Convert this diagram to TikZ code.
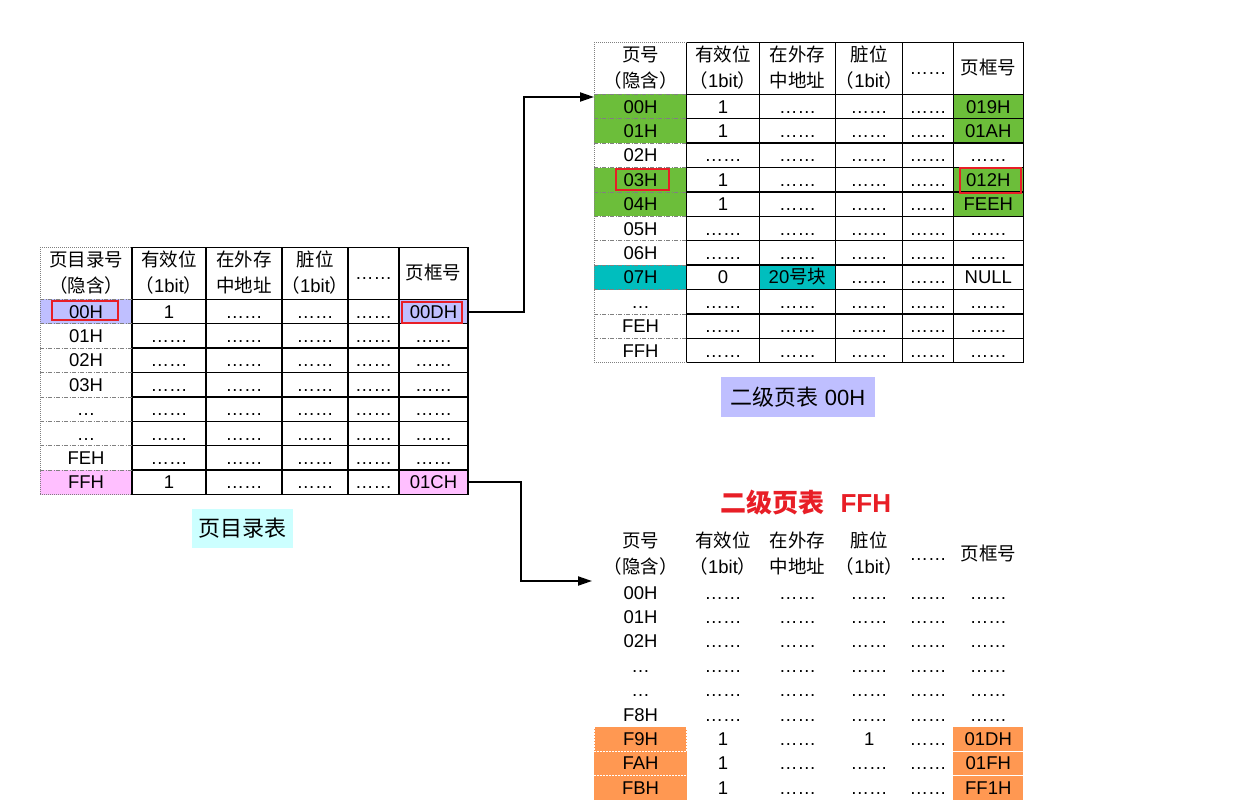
\documentclass[tikz,border=0pt]{standalone}
\usepackage{fontspec}
\setmainfont{Liberation Sans}
\newfontfamily\cjk{Noto Sans CJK SC}
\usetikzlibrary{arrows.meta}
\definecolor{lav}{RGB}{191,191,255}
\definecolor{pinkc}{RGB}{255,191,255}
\definecolor{greenc}{RGB}{108,190,58}
\definecolor{tealc}{RGB}{0,190,190}
\definecolor{orangec}{RGB}{255,152,82}
\definecolor{cyanl}{RGB}{204,255,255}
\definecolor{redc}{RGB}{232,30,38}
\definecolor{grayc}{RGB}{128,128,128}
\newcommand\dsix{……}
\newcommand\dthree{…}
\newcommand\lpar{{\cjk （}}
\newcommand\rpar{{\cjk ）}}
\newcommand\hdrtwo[5]{\node[hdr] (#1a) at (#2,#3-13) {#4}; \node[hdr] (#1b) at (#2,#3+13) {#5};}
\newcommand\hdrone[4]{\node[hdr] (#1) at (#2,#3) {#4};}
\begin{document}
\begin{tikzpicture}[x=1pt,y=-1pt,
  cell/.style={inner sep=0pt,outer sep=0pt,text height=13pt,text depth=0pt,minimum height=24.4pt,font=\fontsize{18.5}{21}\selectfont},
  hdr/.style={inner sep=0pt,text height=13pt,text depth=0pt,font=\fontsize{18.5}{21}\selectfont},
  tline/.style={line width=1.4pt,black},
  gline/.style={line width=0.8pt,grayc,dash pattern=on 4pt off 1.5pt on 1pt off 1.5pt},
  wline/.style={line width=0.8pt,white,dash pattern=on 2pt off 1pt},
  redbox/.style={draw=redc,line width=1.8pt},
  arr/.style={line width=2pt,-{Triangle[length=14pt,width=9pt]}},
  lbl/.style={inner sep=0pt,font=\fontsize{22}{26}\selectfont}
]
\useasboundingbox (0,0) rectangle (1235,803);
\fill[white] (0,0) rectangle (1235,803);
\def\Lx{{86,169,244,315,373.5,433.5}}
\def\Lw{{92,74,76,66,51,69}}
\def\Tx{{640.5,723,797.5,869.2,928,988.3}}
\def\Tw{{92.4,72.6,76.4,67,50.6,70}}

% ---------------- left table (page directory) ----------------
\fill[lav] (40,299.3) rectangle (132,323.7);
\fill[lav] (399,299.3) rectangle (468,323.7);
\fill[pinkc] (40,470.1) rectangle (132,494.5);
\fill[pinkc] (399,470.1) rectangle (468,494.5);
\foreach \row [count=\r from 0] in {
  {00H,1,\dsix,\dsix,\dsix,00DH},
  {01H,\dsix,\dsix,\dsix,\dsix,\dsix},
  {02H,\dsix,\dsix,\dsix,\dsix,\dsix},
  {03H,\dsix,\dsix,\dsix,\dsix,\dsix},
  {\dthree,\dsix,\dsix,\dsix,\dsix,\dsix},
  {\dthree,\dsix,\dsix,\dsix,\dsix,\dsix},
  {FEH,\dsix,\dsix,\dsix,\dsix,\dsix},
  {FFH,1,\dsix,\dsix,\dsix,01CH}}{
  \foreach \t [count=\c from 0] in \row {
    \pgfmathsetmacro\xx{\Lx[\c]}
    \pgfmathsetmacro\ww{\Lw[\c]}
    \node[cell,minimum width=\ww pt] (L-\r-\c) at (\xx,299.3+24.4*\r+12.2) {\t};
  }
}
\hdrtwo{LH0}{86}{273.3}{\cjk 页目录号}{\cjk （隐含）}
\hdrtwo{LH1}{169}{273.3}{\cjk 有效位}{\lpar 1bit\rpar}
\hdrtwo{LH2}{244}{273.3}{\cjk 在外存}{\cjk 中地址}
\hdrtwo{LH3}{315}{273.3}{\cjk 脏位}{\lpar 1bit\rpar}
\hdrone{LH4}{373.5}{273.3}{\dsix}
\hdrone{LH5}{433.5}{273.3}{\cjk 页框号}
\foreach \xv in {132,206,282,348,399,468}
  \draw[tline] (\xv,247.3) -- (\xv,494.5);
\draw[tline] (132,247.3) -- (468,247.3);
\foreach \k in {0,...,8}
  \draw[tline] (132,{299.3+24.4*\k}) -- (468,{299.3+24.4*\k});
\draw[gline,dash pattern=on 1pt off 1pt] (40,247.3) -- (40,494.5);
\draw[gline,dash pattern=on 1pt off 1pt] (40,247.3) -- (132,247.3);
\draw[gline,dash pattern=on 1pt off 1pt] (40,494.5) -- (132,494.5);
\foreach \k in {0,...,7}
  \draw[gline] (40,{299.3+24.4*\k}) -- (132,{299.3+24.4*\k});
\draw[redbox] (51.7,301) rectangle (118.3,320);
\draw[redbox] (401.7,302.3) rectangle (461.7,323.3);
\node[lbl,fill=cyanl,minimum width=101pt,minimum height=38.5pt] (lab1) at (242.5,528.5) {\cjk 页目录表};

% ---------------- top right table (second level 00H) ----------------
\foreach \k in {0,1,3,4}{
  \fill[greenc] (594.3,{94.3+24.4*\k}) rectangle (686.7,{94.3+24.4*(\k+1)});
  \fill[greenc] (953.3,{94.3+24.4*\k}) rectangle (1023.3,{94.3+24.4*(\k+1)});
}
\fill[tealc] (594.3,265.1) rectangle (686.7,289.5);
\fill[tealc] (759.3,265.1) rectangle (835.7,289.5);
\foreach \row [count=\r from 0] in {
  {00H,1,\dsix,\dsix,\dsix,019H},
  {01H,1,\dsix,\dsix,\dsix,01AH},
  {02H,\dsix,\dsix,\dsix,\dsix,\dsix},
  {03H,1,\dsix,\dsix,\dsix,012H},
  {04H,1,\dsix,\dsix,\dsix,FEEH},
  {05H,\dsix,\dsix,\dsix,\dsix,\dsix},
  {06H,\dsix,\dsix,\dsix,\dsix,\dsix},
  {07H,0,20{\cjk 号块},\dsix,\dsix,NULL},
  {\dthree,\dsix,\dsix,\dsix,\dsix,\dsix},
  {FEH,\dsix,\dsix,\dsix,\dsix,\dsix},
  {FFH,\dsix,\dsix,\dsix,\dsix,\dsix}}{
  \foreach \t [count=\c from 0] in \row {
    \pgfmathsetmacro\xx{\Tx[\c]}
    \pgfmathsetmacro\ww{\Tw[\c]}
    \node[cell,minimum width=\ww pt] (T-\r-\c) at (\xx,94.3+24.4*\r+12.2) {\t};
  }
}
\hdrtwo{TH0}{640.5}{68.3}{\cjk 页号}{\cjk （隐含）}
\hdrtwo{TH1}{723}{68.3}{\cjk 有效位}{\lpar 1bit\rpar}
\hdrtwo{TH2}{797.5}{68.3}{\cjk 在外存}{\cjk 中地址}
\hdrtwo{TH3}{869.2}{68.3}{\cjk 脏位}{\lpar 1bit\rpar}
\hdrone{TH4}{928}{68.3}{\dsix}
\hdrone{TH5}{988.3}{68.3}{\cjk 页框号}
\foreach \xv in {686.7,759.3,835.7,902.7,953.3,1023.3}
  \draw[tline] (\xv,42.3) -- (\xv,362.7);
\draw[tline] (686.7,42.3) -- (1023.3,42.3);
\foreach \k in {0,...,11}
  \draw[tline] (686.7,{94.3+24.4*\k}) -- (1023.3,{94.3+24.4*\k});
\draw[gline,dash pattern=on 1pt off 1pt] (594.3,42.3) -- (594.3,362.7);
\draw[gline,dash pattern=on 1pt off 1pt] (594.3,42.3) -- (686.7,42.3);
\draw[gline,dash pattern=on 1pt off 1pt] (594.3,362.7) -- (686.7,362.7);
\foreach \k in {0,...,10}
  \draw[gline] (594.3,{94.3+24.4*\k}) -- (686.7,{94.3+24.4*\k});
\draw[redbox] (615.7,169.3) rectangle (669,190);
\draw[redbox] (960,167.7) rectangle (1021,192.7);
\node[lbl,fill=lav,minimum width=154pt,minimum height=40pt] (lab2) at (798,397) {{\cjk 二级页表} 00H};

% ---------------- bottom right table (second level FFH) ----------------
\fill[orangec] (594.3,726.8) rectangle (686.7,800);
\fill[orangec] (953.3,726.8) rectangle (1023.3,800);
\foreach \row [count=\r from 0] in {
  {00H,\dsix,\dsix,\dsix,\dsix,\dsix},
  {01H,\dsix,\dsix,\dsix,\dsix,\dsix},
  {02H,\dsix,\dsix,\dsix,\dsix,\dsix},
  {\dthree,\dsix,\dsix,\dsix,\dsix,\dsix},
  {\dthree,\dsix,\dsix,\dsix,\dsix,\dsix},
  {F8H,\dsix,\dsix,\dsix,\dsix,\dsix},
  {F9H,1,\dsix,1,\dsix,01DH},
  {FAH,1,\dsix,\dsix,\dsix,01FH},
  {FBH,1,\dsix,\dsix,\dsix,FF1H}}{
  \foreach \t [count=\c from 0] in \row {
    \pgfmathsetmacro\xx{\Tx[\c]}
    \pgfmathsetmacro\ww{\Tw[\c]}
    \node[cell,minimum width=\ww pt] (B-\r-\c) at (\xx,580.4+24.4*\r+12.2) {\t};
  }
}
\hdrtwo{BH0}{640.5}{554.4}{\cjk 页号}{\cjk （隐含）}
\hdrtwo{BH1}{723}{554.4}{\cjk 有效位}{\lpar 1bit\rpar}
\hdrtwo{BH2}{797.5}{554.4}{\cjk 在外存}{\cjk 中地址}
\hdrtwo{BH3}{869.2}{554.4}{\cjk 脏位}{\lpar 1bit\rpar}
\hdrone{BH4}{928}{554.4}{\dsix}
\hdrone{BH5}{988.3}{554.4}{\cjk 页框号}
\draw[wline] (594.3,726.8) rectangle (686.7,751.2);
\draw[wline] (594.3,775.6) -- (686.7,775.6);
\draw[white,line width=1pt] (953.3,751.2) -- (1023.3,751.2);
\draw[white,line width=1pt] (953.3,775.6) -- (1023.3,775.6);
\node[inner sep=0pt,text=redc,font=\fontsize{26}{30}\selectfont] (ttl) at (806,503) {{\cjk\bfseries 二级页表}\hspace{0.6em}\textbf{FFH}};

% ---------------- connectors ----------------
\coordinate (t1) at (594,97);
\coordinate (b1) at (592,581);
\draw[arr] (L-0-5.east) -- ++(56,0) |- (t1);
\draw[arr] (L-7-5.east) -- ++(53,0) |- (b1);
\end{tikzpicture}
\end{document}
